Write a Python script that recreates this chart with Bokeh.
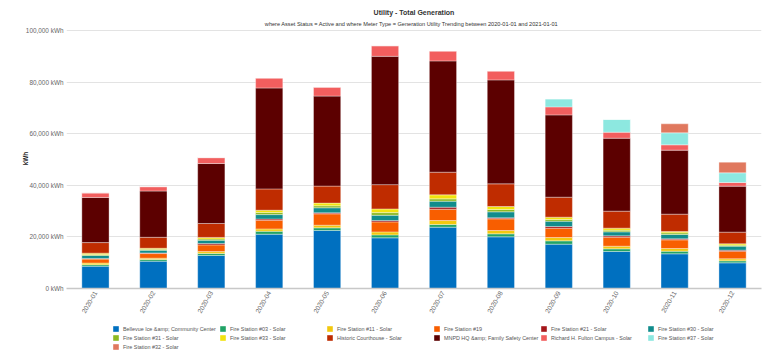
from bokeh.plotting import figure
from bokeh.models import (ColumnDataSource, FactorRange, Range1d, Legend, LegendItem,
                          Title, CustomJSTickFormatter, FixedTicker)
from bokeh.layouts import column
from bokeh.embed import file_html
from bokeh.resources import INLINE
import math

months = ["2020-01", "2020-02", "2020-03", "2020-04", "2020-05", "2020-06",
          "2020-07", "2020-08", "2020-09", "2020-10", "2020-11", "2020-12"]

series_names = [
    "Bellevue Ice &amp; Community Center",
    "Fire Station #03 - Solar",
    "Fire Station #11 - Solar",
    "Fire Station #19",
    "Fire Station #21 - Solar",
    "Fire Station #30 - Solar",
    "Fire Station #31 - Solar",
    "Fire Station #33 - Solar",
    "Historic Courthouse - Solar",
    "MNPD HQ &amp; Family Safety Center",
    "Richard H. Fulton Campus - Solar",
    "Fire Station #37 - Solar",
    "Fire Station #32 - Solar",
]

bellevue = [8650, 10600, 12800, 21050, 22480, 19640, 23770, 20030, 17180, 14340, 13440, 9950]
fs03 = [600, 650, 750, 1150, 1030, 1150, 1030, 1160, 1290, 1030, 1030, 780]
fs11 = [600, 500, 750, 900, 1030, 1150, 1550, 1290, 1290, 1030, 1030, 780]
fs19 = [1550, 1800, 2600, 3350, 4400, 3880, 4390, 4520, 3620, 3490, 3360, 2970]
fs21 = [250, 250, 500, 500, 400, 500, 780, 390, 650, 520, 390, 390]
fs30 = [1150, 1000, 1300, 1700, 1950, 2070, 2330, 2330, 2070, 1550, 1680, 1550]
fs31 = [400, 400, 500, 800, 780, 1030, 900, 900, 650, 650, 650, 390]
fs33 = [500, 400, 600, 900, 1030, 1420, 1550, 1160, 900, 780, 520, 520]
historic = [4100, 4250, 5400, 8250, 6600, 9430, 8790, 8790, 7750, 6590, 6720, 4520]
mnpd = [17500, 17950, 23250, 39150, 34900, 49740, 43150, 40310, 31910, 28290, 24810, 17830]
fulton = [1800, 1700, 2300, 3900, 3500, 4130, 3880, 3490, 3100, 2330, 2070, 1420]
fs37 = [0, 0, 0, 0, 0, 0, 0, 0, 3100, 4910, 4650, 3750]
fs32 = [0, 0, 0, 0, 0, 0, 0, 0, 0, 0, 3490, 4130]

colors = ["#0070C0", "#21A366", "#F2C80F", "#F85E00", "#A4161A", "#118C8C", "#8DBA23",
          "#F2E30D", "#BF2C00", "#5C0000", "#F25E5E", "#8DE8E0", "#E0785E"]

y_ticks = [0, 20000, 40000, 60000, 80000, 100000]

keys = ["s%d" % i for i in range(len(series_names))]
values = [bellevue, fs03, fs11, fs19, fs21, fs30, fs31, fs33, historic, mnpd, fulton, fs37, fs32]
data = {"month": months}
for k, v in zip(keys, values):
    data[k] = v
source = ColumnDataSource(data)

p = figure(x_range=FactorRange(*months, range_padding=0), y_range=Range1d(0, 100800),
           width=764, height=321, output_backend="svg", toolbar_location=None,
           min_border_left=66, min_border_right=3, min_border_top=21, min_border_bottom=33)

p.vbar_stack(keys, x="month", width=0.47, source=source, color=colors,
             line_color="white", line_width=0.6, line_alpha=0.6)

p.add_layout(Title(text="where Asset Status =  Active and  where Meter Type =  Generation Utility Trending between 2020-01-01 and 2021-01-01",
                   align="center", text_font_size="5.6px", text_font_style="normal",
                   text_color="#333333", text_font="Liberation Sans", standoff=4), "above")
p.add_layout(Title(text="Utility - Total Generation", align="center", text_font_size="7px",
                   text_font_style="bold", text_color="#333333", text_font="Liberation Sans",
                   standoff=2), "above")
p.add_layout(Title(text=" ", text_font_size="3px", standoff=0), "above")

p.outline_line_color = None
p.xgrid.grid_line_color = None
p.ygrid.grid_line_color = "#e3e3e3"
p.ygrid.grid_line_width = 1
p.yaxis.ticker = FixedTicker(ticks=y_ticks)
p.yaxis.formatter = CustomJSTickFormatter(code="return tick.toLocaleString('en-US') + ' kWh';")
p.yaxis.axis_line_color = None
p.yaxis.major_tick_line_color = None
p.yaxis.minor_tick_line_color = None
p.yaxis.major_tick_out = 0
p.yaxis.major_tick_in = 0
p.yaxis.minor_tick_out = 0
p.yaxis.major_label_text_font_size = "6.4px"
p.yaxis.major_label_text_color = "#666666"
p.yaxis.major_label_text_font = "Liberation Sans"
p.yaxis.major_label_standoff = 3
p.yaxis.axis_label = "kWh"
p.yaxis.axis_label_text_font_size = "6.4px"
p.yaxis.axis_label_text_font_style = "bold"
p.yaxis.axis_label_text_font = "Liberation Sans"
p.yaxis.axis_label_text_color = "#222222"
p.yaxis.axis_label_standoff = -6

p.xaxis.axis_line_color = "#c8c8c8"
p.xaxis.axis_line_width = 1.5
p.xaxis.major_tick_line_color = None
p.xaxis.minor_tick_line_color = None
p.xaxis.major_tick_out = 0
p.xaxis.major_tick_in = 0
p.xaxis.minor_tick_out = 0
p.xaxis.major_label_orientation = math.radians(60)
p.xaxis.major_label_text_font_size = "6.6px"
p.xaxis.major_label_text_color = "#666666"
p.xaxis.major_label_text_font = "Liberation Sans"
p.xaxis.major_label_standoff = 3

# legend strip below the chart (zero-width bars only serve as legend swatches)
lg = figure(width=764, height=32, output_backend="svg", toolbar_location=None,
            x_range=FactorRange(*months), y_range=Range1d(-2, -1),
            x_axis_location=None, y_axis_location=None,
            min_border_left=0, min_border_right=0, min_border_top=0, min_border_bottom=0)
lg.grid.visible = False
lg.outline_line_color = None
lrs = lg.vbar_stack(keys, x="month", width=0, source=source, fill_color=colors,
                    line_color=None)
items = [LegendItem(label=n, renderers=[r]) for n, r in zip(series_names, lrs)]
legend = Legend(items=items, ncols=6, orientation="horizontal", location=(46, 2),
                label_text_font_size="5.4px", label_text_color="#555555",
                label_text_font="Liberation Sans",
                label_width=96, label_height=9, glyph_width=7, glyph_height=7,
                label_standoff=4, spacing=0, padding=0, margin=0,
                border_line_color=None, background_fill_alpha=0)
lg.add_layout(legend, "center")

layout = column(p, lg, spacing=0)
open("out.html", "w").write(file_html(layout, INLINE))
